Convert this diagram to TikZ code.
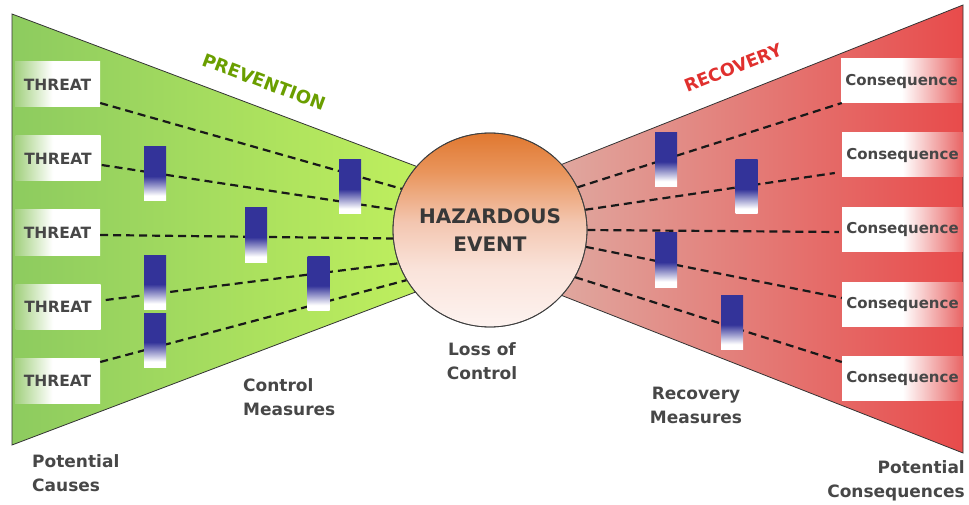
\documentclass[tikz,border=0pt]{standalone}
\usepackage{fontspec}
\setmainfont{DejaVu Sans}
\usetikzlibrary{calc}
\definecolor{gLeft}{HTML}{8DCB5F}
\definecolor{gRight}{HTML}{C3F25E}
\definecolor{rLeft}{HTML}{DFAEA5}
\definecolor{rRight}{HTML}{E84B4B}
\definecolor{barblue}{HTML}{333399}
\definecolor{tgreen}{HTML}{A2D07E}
\definecolor{cred}{HTML}{E86464}
\definecolor{txt}{HTML}{474747}
\definecolor{prevgreen}{HTML}{6A9E00}
\definecolor{recred}{HTML}{E0302E}
\definecolor{c1}{HTML}{FDF3F0}
\definecolor{c2}{HTML}{FAE3DA}
\definecolor{c3}{HTML}{F3C6B0}
\definecolor{c4}{HTML}{E9955C}
\definecolor{c5}{HTML}{E07830}
\pgfdeclareverticalshading{barshade}{100bp}{color(0bp)=(white); color(30bp)=(white); color(48bp)=(barblue); color(100bp)=(barblue)}
\pgfdeclarehorizontalshading{threatshade}{100bp}{color(0bp)=(tgreen); color(25bp)=(tgreen); color(47bp)=(white); color(100bp)=(white)}
\pgfdeclarehorizontalshading{consshade}{100bp}{color(0bp)=(white); color(50bp)=(white); color(75bp)=(cred); color(100bp)=(cred)}
\pgfdeclareverticalshading{circshade}{100bp}{color(0bp)=(c1); color(25bp)=(c1); color(40bp)=(c2); color(52bp)=(c3); color(65bp)=(c4); color(75bp)=(c5); color(100bp)=(c5)}
\tikzset{
  threatbox/.style={shade, shading=threatshade, minimum width=85, minimum height=45, inner sep=0, font=\fontsize{15.5}{18}\selectfont\bfseries, text=txt},
  consbox/.style={shade, shading=consshade, minimum width=121, minimum height=44, inner sep=0, font=\fontsize{15}{18}\selectfont\bfseries, text=txt},
  barrier/.style={shade, shading=barshade, minimum width=22, minimum height=54, inner sep=0},
  link/.style={dash pattern=on 8pt off 5pt, line width=2.2, black!90},
  lbl/.style={font=\fontsize{17}{24}\selectfont\bfseries, text=txt, inner sep=0},
  edge/.style={draw=black!80, line width=0.8}
}
\begin{document}
\begin{tikzpicture}[x=1pt,y=-1pt]
\useasboundingbox (0,0) rectangle (969,505);
% wings
\path[edge, left color=gLeft, right color=gRight] (12,14) -- (450,179) -- (450,279) -- (12,445) -- cycle;
\path[edge, left color=rLeft, right color=rRight] (963,5) -- (530,177) -- (530,283) -- (963,453) -- cycle;
% boxes
\node[threatbox] (t1) at (57.5,84.5) {THREAT};
\node[threatbox] (t2) at (58,158.5) {THREAT};
\node[threatbox] (t3) at (57.5,232.5) {THREAT};
\node[threatbox] (t4) at (58,306.5) {THREAT};
\node[threatbox] (t5) at (57.5,380.5) {THREAT};
\node[consbox] (k1) at (901.5,81) {Consequence};
\node[consbox] (k2) at (902.5,155) {Consequence};
\node[consbox] (k3) at (902.5,229.5) {Consequence};
\node[consbox] (k4) at (902.5,304) {Consequence};
\node[consbox] (k5) at (902.5,378) {Consequence};
% hazard
\node[circle, minimum size=194, inner sep=0, shade, shading=circshade, draw=black!75, line width=0.8] (hz) at (490,230) {};
% links
\draw[link] ($(t1.east)+(0,18.5)$) -- (hz.155);
\draw[link] ($(t2.east)+(1,6.5)$) -- (hz.168);
\draw[link] ($(t3.east)+(0,2.5)$) -- (hz.185);
\draw[link] ($(t4.east)+(5,-6.5)$) -- (hz.200);
\draw[link] ($(t5.east)+(0,-18.5)$) -- (hz.211);
\draw[link] (hz.26) -- ($(k1.west)+(1,22)$);
\draw[link] (hz.12.5) -- ($(k2.west)+(-7,18)$);
\draw[link] (hz.0) -- ($(k3.west)+(-3,2.5)$);
\draw[link] (hz.-10.5) -- ($(k4.west)+(0,-6)$);
\draw[link] (hz.-29) -- ($(k5.west)+(0,-16)$);
\node[circle, draw=black!75, line width=0.8, minimum size=194, inner sep=0, align=center, font=\fontsize{20}{28}\selectfont\bfseries, text=black!78] (hzt) at (hz.center) {HAZARDOUS\\EVENT};
% barriers
\node[barrier] (b1) at (155,174) {};
\node[barrier] (b2) at (350,187) {};
\node[barrier] (b3) at (256,235) {};
\node[barrier] (b4) at (155,282) {};
\node[barrier] (b5) at (318.5,283.5) {};
\node[barrier] (b6) at (155,340) {};
\node[barrier] (r1) at (666,159.5) {};
\node[barrier] (r2) at (746.5,187) {};
\node[barrier] (r3) at (666,260) {};
\node[barrier] (r4) at (732,322.5) {};
% titles
\node[font=\fontsize{18}{20}\selectfont\bfseries, text=prevgreen, rotate=-20.7, inner sep=0] (prev) at (264,82) {PREVENTION};
\node[font=\fontsize{17.5}{20}\selectfont\bfseries, text=recred, rotate=21.6, inner sep=0] (rec) at (733,68) {RECOVERY};
% labels
\node[lbl, anchor=west, align=left] (pc) at (32,473.5) {Potential\\Causes};
\node[lbl, anchor=west, align=left] (cm) at (243,397) {Control\\Measures};
\node[lbl, align=center] (lc) at (482,361.5) {Loss of\\Control};
\node[lbl, align=center] (rm) at (696,405) {Recovery\\Measures};
\node[lbl, anchor=east, align=right] (pq) at (965,480.5) {Potential\\Consequences};
\end{tikzpicture}
\end{document}
